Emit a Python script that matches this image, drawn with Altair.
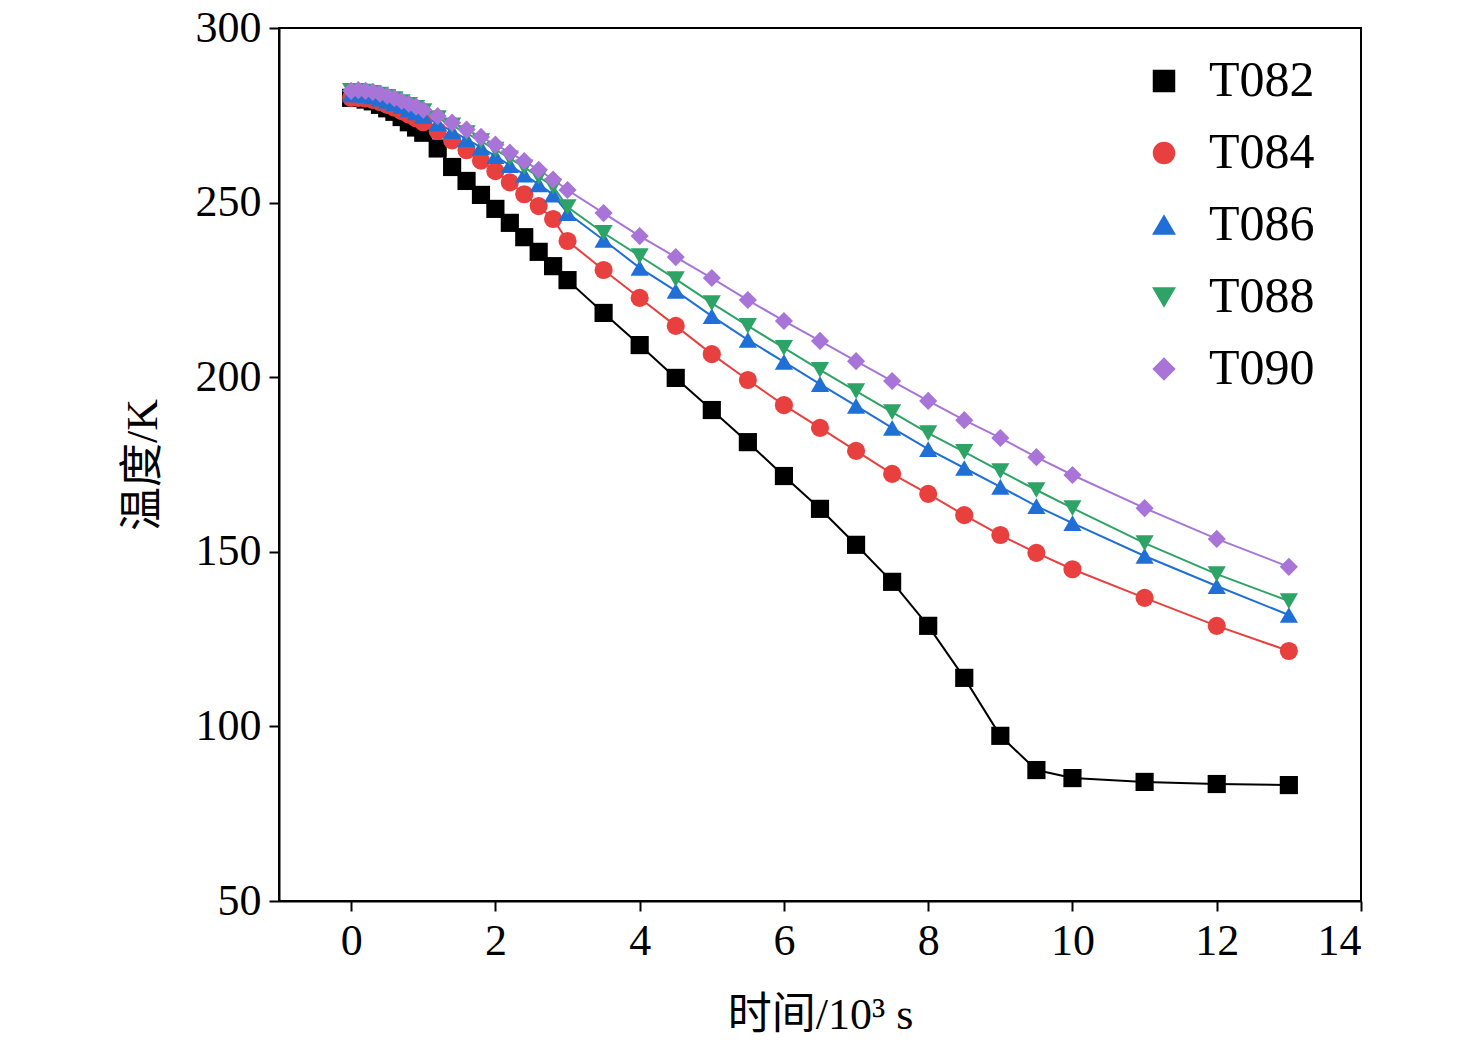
import altair as alt
import pandas as pd

times = [0, 0.1, 0.2, 0.3, 0.4, 0.5, 0.6, 0.7, 0.8, 0.9, 1.0,
         1.2, 1.4, 1.6, 1.8, 2.0, 2.2, 2.4, 2.6, 2.8, 3.0,
         3.5, 4, 4.5, 5, 5.5, 6, 6.5, 7, 7.5, 8, 8.5, 9, 9.5, 10, 11, 12, 13]

t082 = [280, 280, 279.5, 279, 278, 277, 276, 274.5, 273, 271.5, 270,
        265.5, 260.2, 256.2, 252.2, 248.2, 244.2, 240.1, 235.9, 231.8, 227.8,
        218.4, 209.2, 199.8, 190.6, 181.4, 171.7, 162.3, 152, 141.4, 128.8, 113.9, 97.3, 87.5, 85.2, 84.1, 83.5, 83.2]
t084 = [280, 280, 279.8, 279.4, 278.8, 278, 277.2, 276.2, 275.2, 274.1, 273,
        270.5, 267.8, 265, 262, 259, 255.8, 252.4, 249, 245.3, 239,
        230.7, 222.7, 214.7, 206.6, 199.2, 192, 185.5, 178.9, 172.3, 166.6, 160.5, 154.8, 149.7, 145, 136.8, 128.8, 121.6]
t086 = [281, 281, 280.8, 280.4, 279.8, 279.1, 278.4, 277.6, 276.7, 275.8, 274.8,
        272.7, 270.5, 268.2, 265.8, 263.3, 260.7, 258, 255.2, 252.3, 247,
        239.3, 231.3, 224.7, 217.5, 210.7, 204.4, 198, 191.8, 185.5, 179.4, 174, 168.6, 163.1, 158.2, 148.8, 140.2, 131.9]
t088 = [282, 282, 281.8, 281.4, 280.9, 280.3, 279.6, 278.8, 278, 277.1, 276.2,
        274.2, 272.1, 269.9, 267.6, 265.2, 262.7, 260.1, 257.4, 254.6, 248.7,
        241.3, 234.7, 228.1, 221.2, 214.7, 208.4, 202.1, 196, 190, 184, 178.6, 173.1, 167.7, 162.5, 152.5, 143.6, 135.9]
t090 = [282, 282.2, 282, 281.7, 281.2, 280.6, 279.9, 279.1, 278.3, 277.5, 276.6,
        274.8, 272.9, 270.9, 268.8, 266.6, 264.3, 261.9, 259.4, 256.6, 253.6,
        247, 240.4, 234.4, 228.4, 222.1, 216.1, 210.4, 204.6, 198.9, 193.2, 187.7, 182.6, 177.1, 172, 162.5, 153.7, 145.7]

series = ["T082", "T084", "T086", "T088", "T090"]
colors = ["#000000", "#e8403f", "#1f6fd6", "#2ea366", "#a874d8"]
shapes = ["square", "circle", "triangle-up", "triangle-down", "diamond"]

rows = []
for name, vals in zip(series, [t082, t084, t086, t088, t090]):
    for t, v in zip(times, vals):
        rows.append({"time": t, "temp": v, "series": name})
df = pd.DataFrame(rows)

font = "Liberation Serif, Noto Sans CJK SC"

chart = (
    alt.Chart(df)
    .mark_line(point=alt.OverlayMarkDef(size=330, filled=True, opacity=1), strokeWidth=2)
    .encode(
        x=alt.X("time:Q", title="时间/10³ s",
                scale=alt.Scale(domain=[-1, 14], nice=False),
                axis=alt.Axis(values=list(range(0, 15, 2)), grid=False, tickSize=10,
                              labelFontSize=44, titleFontSize=44, labelPadding=8,
                              titleFontWeight="normal", titlePadding=30)),
        y=alt.Y("temp:Q", title="温度/K",
                scale=alt.Scale(domain=[50, 300], nice=False),
                axis=alt.Axis(values=list(range(50, 301, 50)), grid=False, tickSize=10,
                              labelFontSize=44, titleFontSize=44, labelPadding=8,
                              titleFontWeight="normal", titlePadding=30)),
        color=alt.Color("series:N", title=None,
                        scale=alt.Scale(domain=series, range=colors),
                        legend=alt.Legend(orient="none", legendX=860, legendY=28,
                                          labelFontSize=50, symbolSize=420,
                                          rowPadding=22, symbolStrokeWidth=2,
                                          labelOffset=20)),
        shape=alt.Shape("series:N", title=None,
                        scale=alt.Scale(domain=series, range=shapes)),
        detail="series:N",
    )
    .properties(width=1082, height=873,
                autosize=alt.AutoSizeParams(type="none"),
                padding={"left": 271, "top": 20, "right": 100, "bottom": 150})
    .configure(font=font)
    .configure_axis(domainColor="black", tickColor="black", labelColor="black",
                    titleColor="black", domainWidth=2, tickWidth=2)
    .configure_view(stroke="black", strokeWidth=2)
    .configure_legend(labelFont=font, labelColor="black")
)

chart.save("out.html", embed_options={"renderer": "svg", "actions": False})
